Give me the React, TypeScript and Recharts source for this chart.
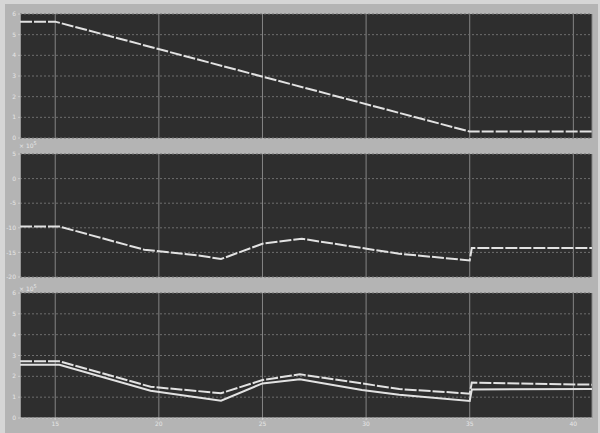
import React from 'react';
import {
  LineChart,
  Line,
  XAxis,
  YAxis,
  CartesianGrid,
} from 'recharts';

// time axis
const timeDomain: [number, number] = [13.3, 40.9];
const timeTicks = [15, 20, 25, 30, 35, 40];

// top trace
const t1 = [13.3, 15, 35, 40.9];
const p1 = [5.63, 5.63, 0.31, 0.31];
const yTicks1 = [0, 1, 2, 3, 4, 5, 6];

// middle trace
const t2 = [13.3, 15.2, 19.3, 22, 23, 25, 26.9, 30.1, 31.6, 35, 35.1, 40.9];
const p2 = [-9.74, -9.74, -14.46, -15.68, -16.35, -13.24, -12.23, -14.3, -15.27, -16.63, -14.12, -14.12];
const yTicks2 = [-20, -15, -10, -5, 0, 5];

// bottom traces
const t3 = [13.3, 15.2, 19.6, 23, 25, 26.8, 29.8, 31.6, 35, 35.1, 40.9];
const p3a = [2.72, 2.72, 1.5, 1.19, 1.82, 2.1, 1.66, 1.39, 1.17, 1.7, 1.6];
const p3b = [2.56, 2.56, 1.31, 0.83, 1.66, 1.86, 1.34, 1.12, 0.82, 1.37, 1.39];
const yTicks3 = [0, 1, 2, 3, 4, 5, 6];

const PLOT_BG = '#2e2e2e';
const FIG_BG = '#b4b4b4';
const TRACE = '#e2e2e2';
const LABEL = '#e6e6e6';
const FRAME = '#cfcfcf';

const toRows = (t: number[], v: number[]) => t.map((x, i) => ({ t: x, v: v[i] }));

const tickStyle = { fontSize: 6, fill: LABEL, fontFamily: 'DejaVu Sans' };

interface Trace {
  rows: Array<{ t: number; v: number }>;
  dash?: string;
}

interface PanelProps {
  top: number;
  height: number;
  margin: { top: number; bottom: number };
  yDomain: [number, number];
  yTicks: number[];
  traces: Trace[];
  showTime?: boolean;
}

function Panel({ top, height, margin, yDomain, yTicks, traces, showTime }: PanelProps) {
  return (
    <div style={{ position: 'absolute', left: 0, top, width: 600, height }}>
      <LineChart
        width={600}
        height={height}
        margin={{ top: margin.top, bottom: margin.bottom, left: 6, right: 8 }}
      >
        <CartesianGrid fill={PLOT_BG} horizontal={false} stroke='#858585' />
        <CartesianGrid vertical={false} stroke='#6e6e6e' strokeDasharray='2 2' />
        <XAxis
          dataKey='t'
          type='number'
          domain={timeDomain}
          ticks={timeTicks}
          allowDataOverflow
          hide={!showTime}
          height={12}
          tick={tickStyle}
          tickSize={2}
          tickLine={{ stroke: FRAME }}
          axisLine={{ stroke: FRAME }}
        />
        {/* frame along the top and right edges */}
        <XAxis
          xAxisId='frameTop'
          orientation='top'
          type='number'
          domain={timeDomain}
          height={0}
          tick={false}
          tickLine={false}
          axisLine={{ stroke: FRAME }}
        />
        <YAxis
          type='number'
          domain={yDomain}
          ticks={yTicks}
          allowDataOverflow
          width={14}
          tick={tickStyle}
          tickSize={2}
          tickLine={{ stroke: FRAME }}
          axisLine={{ stroke: FRAME }}
          interval={0}
        />
        <YAxis
          yAxisId='frameRight'
          orientation='right'
          type='number'
          domain={yDomain}
          width={0}
          tick={false}
          tickLine={false}
          axisLine={{ stroke: FRAME }}
        />
        {traces.map((tr, i) => (
          <Line
            key={i}
            data={tr.rows}
            dataKey='v'
            type='linear'
            stroke={TRACE}
            strokeWidth={2}
            strokeDasharray={tr.dash}
            dot={false}
            isAnimationActive={false}
          />
        ))}
      </LineChart>
    </div>
  );
}

const expStyle: React.CSSProperties = {
  position: 'absolute',
  left: 19,
  fontSize: 6,
  color: LABEL,
  fontFamily: 'DejaVu Sans',
  lineHeight: 1,
};

export default function App() {
  return (
    <div
      style={{
        position: 'fixed',
        left: 0,
        top: 0,
        width: 600,
        height: 433,
        background: '#d6d6d6',
        overflow: 'hidden',
      }}
    >
      <div
        style={{
          position: 'absolute',
          left: 5,
          top: 4,
          right: 2,
          bottom: 0,
          background: FIG_BG,
        }}
      />
      <Panel
        top={0}
        height={143}
        margin={{ top: 14, bottom: 5 }}
        yDomain={[0, 6]}
        yTicks={yTicks1}
        traces={[{ rows: toRows(t1, p1), dash: '12 2' }]}
      />
      <Panel
        top={143}
        height={140}
        margin={{ top: 11, bottom: 6 }}
        yDomain={[-20, 5]}
        yTicks={yTicks2}
        traces={[{ rows: toRows(t2, p2), dash: '12 2' }]}
      />
      <Panel
        top={283}
        height={150}
        margin={{ top: 10, bottom: 3 }}
        yDomain={[0, 6]}
        yTicks={yTicks3}
        traces={[
          { rows: toRows(t3, p3a), dash: '12 2' },
          { rows: toRows(t3, p3b) },
        ]}
        showTime
      />
      <span style={{ ...expStyle, top: 141 }}>
        × 10<sup style={{ fontSize: 5 }}>5</sup>
      </span>
      <span style={{ ...expStyle, top: 284 }}>
        × 10<sup style={{ fontSize: 5 }}>5</sup>
      </span>
    </div>
  );
}
